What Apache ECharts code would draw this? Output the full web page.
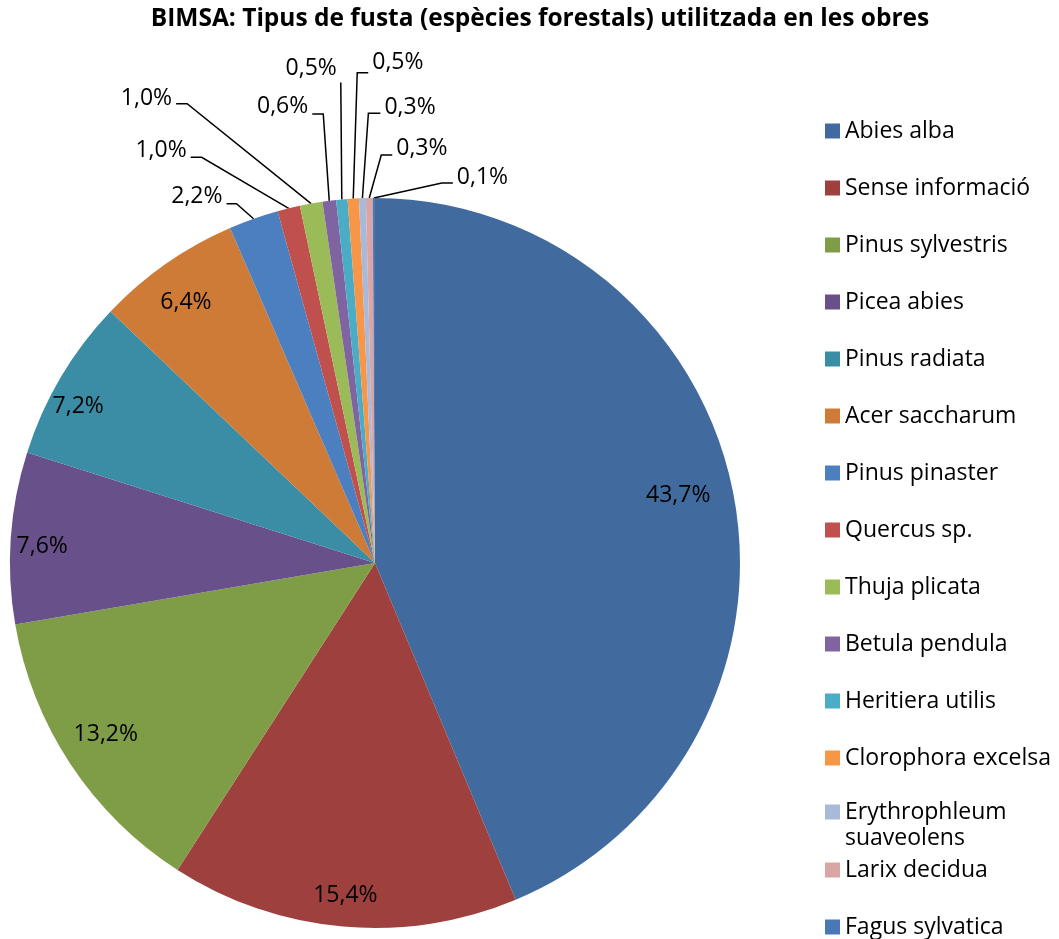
<!DOCTYPE html>
<html>
<head>
<meta charset="utf-8">
<script src="https://cdn.jsdelivr.net/npm/echarts@6/dist/echarts.min.js"></script>
<style>
  html, body { margin: 0; padding: 0; background: #fff; }
  #chart { width: 1059px; height: 939px; }
</style>
</head>
<body>
<div id="chart"></div>
<script>
// ---- Data ----
const titleText = 'BIMSA: Tipus de fusta (espècies forestals) utilitzada en les obres';
const categories = [
  'Abies alba', 'Sense informació', 'Pinus sylvestris', 'Picea abies', 'Pinus radiata',
  'Acer saccharum', 'Pinus pinaster', 'Quercus sp.', 'Thuja plicata', 'Betula pendula',
  'Heritiera utilis', 'Clorophora excelsa', 'Erythrophleum suaveolens', 'Larix decidua', 'Fagus sylvatica'
];
const values = [43.7, 15.4, 13.2, 7.6, 7.2, 6.4, 2.2, 1.0, 1.0, 0.6, 0.5, 0.5, 0.3, 0.3, 0.1];

// ---- Styles / layout ----
const colors = [
  '#416B9E', '#9E413E', '#7F9C47', '#68508B', '#3A8DA5', '#CE7B37',
  '#4C7FC0', '#C0504D', '#9BBB59', '#8064A2', '#4BACC6', '#F79646',
  '#A9B9D9', '#D9A6A5', '#4A78B6'
];
const CX = 375, CY = 563, R = 365;
const FONT = '"Open Sans", "Noto Sans", sans-serif';
const FS = 23;
// inside labels: radial fraction of the radius + small nudges
const insideCfg = {
  0: { f: 0.85, dx: -6, dy: -6 },
  1: { f: 0.91, dx: 0, dy: -4 },
  2: { f: 0.87, dx: 0, dy: -7 },
  3: { f: 0.91, dx: 4, dy: 7 },
  4: { f: 0.92, dx: -3, dy: 17 },
  5: { f: 0.89, dx: 0, dy: 10 }
};
// outside labels: elbow offset from the slice edge, horizontal tail, label offsets
const leader = {
  6:  { ex: -17,  ey: -15,  h: -10, ly: -7 },
  7:  { ex: -87,  ey: -51,  h: -11, ly: -7 },
  8:  { ex: -124, ey: -100, h: -11, ly: -5 },
  9:  { ex: -6,   ey: -87,  h: -11, ly: -7 },
  10: { ex: -1,   ey: -117, h: 0,   ly: -14, side: -1 },
  11: { ex: 4,    ey: -126, h: 11,  ly: -10 },
  12: { ex: 6,    ey: -85,  h: 12,  ly: -6 },
  13: { ex: 12,   ey: -43,  h: 11,  ly: -7 },
  14: { ex: 68,   ey: -15,  h: 11,  ly: -6 }
};

const chart = echarts.init(document.getElementById('chart'), null, { renderer: 'canvas' });

const seriesData = categories.map(function (name, i) {
  const inside = insideCfg[i] != null;
  return {
    name: name,
    value: values[i],
    itemStyle: { color: colors[i] },
    label: { position: inside ? 'inside' : 'outside' },
    labelLine: { show: !inside }
  };
});

function edgePoint(i) {
  let cum = 0;
  for (let k = 0; k < i; k++) cum += values[k];
  const total = values.reduce(function (a, b) { return a + b; }, 0);
  const a = (cum + values[i] / 2) / total * Math.PI * 2;
  return [CX + R * Math.sin(a), CY - R * Math.cos(a)];
}

const legendBase = {
  orient: 'vertical',
  left: 825,
  padding: 0,
  itemWidth: 15,
  itemHeight: 15,
  itemGap: 33,
  icon: 'rect',
  selectedMode: false,
  textStyle: { fontFamily: FONT, fontSize: FS, color: '#000', lineHeight: 24 }
};
const wrapName = 'Erythrophleum suaveolens';

const option = {
  backgroundColor: '#fff',
  animation: false,
  title: {
    text: titleText,
    left: 540,
    top: 7,
    padding: 0,
    textAlign: 'center',
    textStyle: { fontFamily: FONT, fontWeight: 'bold', fontSize: 24.5, color: '#000' }
  },
  legend: [
    Object.assign({}, legendBase, { top: 119, data: categories.slice(0, 12) }),
    Object.assign({}, legendBase, {
      top: 773,
      data: [wrapName],
      textStyle: { fontFamily: FONT, fontSize: FS, color: '#000', lineHeight: 26 },
      // blank first line keeps the first word level with the marker
      formatter: function (name) { return '\n' + name.replace(' ', '\n'); }
    }),
    Object.assign({}, legendBase, { top: 858, data: categories.slice(13) })
  ],
  series: [{
    type: 'pie',
    center: [CX, CY],
    radius: R,
    startAngle: 90,
    clockwise: true,
    avoidLabelOverlap: false,
    emphasis: { disabled: true },
    label: {
      show: true,
      color: '#000',
      fontFamily: FONT,
      fontSize: FS,
      formatter: function (p) { return p.value.toFixed(1).replace('.', ',') + '%'; }
    },
    labelLine: { lineStyle: { color: '#000', width: 1.5 } },
    labelLayout: function (params) {
      const i = params.dataIndex;
      const ic = insideCfg[i];
      if (ic) {
        const r = params.labelRect;
        const lx = r.x + r.width / 2, ly = r.y + r.height / 2;
        const s = ic.f / 0.5;
        return { x: CX + (lx - CX) * s + ic.dx, y: CY + (ly - CY) * s + ic.dy, align: 'center', verticalAlign: 'middle' };
      }
      const cfg = leader[i];
      if (!cfg) return {};
      const p0 = (params.labelLinePoints && params.labelLinePoints[0]) || edgePoint(i);
      const p1 = [p0[0] + cfg.ex, p0[1] + cfg.ey];
      const p2 = [p1[0] + cfg.h, p1[1]];
      const side = cfg.side || (cfg.h < 0 ? -1 : 1);
      return {
        x: p2[0] + side * 4,
        y: p2[1] + cfg.ly,
        align: side < 0 ? 'right' : 'left',
        verticalAlign: 'middle',
        labelLinePoints: [p0, p1, p2]
      };
    },
    data: seriesData
  }]
};

chart.setOption(option);
</script>
</body>
</html>
